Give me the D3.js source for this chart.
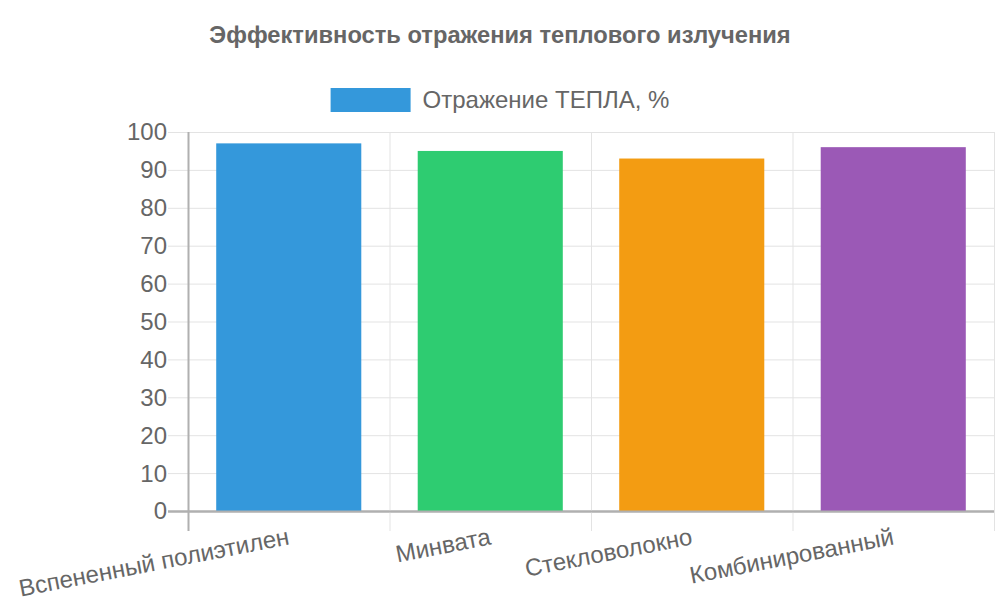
<!DOCTYPE html>
<html>
<head>
<meta charset="utf-8">
<script src="https://cdn.jsdelivr.net/npm/d3@7"></script>
<style>
    body { margin: 0; background: #fff; }
    text { font-family: "Liberation Sans", Arial, sans-serif; fill: #666; }
</style>
</head>
<body>
<div id="chart"></div>
<script>
// данные
var categories = ["Вспененный полиэтилен", "Минвата", "Стекловолокно", "Комбинированный"];
var values = [97, 95, 93, 96];
var barColors = ["#3498db", "#2ecc71", "#f39c12", "#9b59b6"];
var yTicks = [0, 10, 20, 30, 40, 50, 60, 70, 80, 90, 100];
var seriesName = "Отражение ТЕПЛА, %";
var titleText = "Эффективность отражения теплового излучения";

var width = 1000,
    height = 600,
    padding = {
        top: 132,
        right: 6,
        bottom: 89,
        left: 188
    };
var tickLen = 20;

var svg = d3.select("#chart")
    .append("svg")
    .attr("width", width)
    .attr("height", height);

var xScale = d3.scaleBand()
    .domain(categories)
    .range([padding.left, width - padding.right])
    .paddingInner(0.28)
    .paddingOuter(0.14);

var yScale = d3.scaleLinear()
    .domain([0, 100])
    .range([height - padding.bottom, padding.top]);

var y0 = yScale(0);
var step = xScale.step();

// горизонтальная сетка
svg.append("g")
    .selectAll("line")
    .data(yTicks)
    .enter().append("line")
    .attr("x1", padding.left - tickLen)
    .attr("x2", width - padding.right)
    .attr("y1", function(d) { return yScale(d) + 0.5; })
    .attr("y2", function(d) { return yScale(d) + 0.5; })
    .attr("stroke", function(d) { return d === 0 ? "#b0b0b0" : "#e3e3e3"; })
    .attr("stroke-width", function(d) { return d === 0 ? 2 : 1; });

// вертикальная сетка
var xGrid = d3.range(categories.length + 1);
svg.append("g")
    .selectAll("line")
    .data(xGrid)
    .enter().append("line")
    .attr("x1", function(i) { return padding.left + i * step + 0.5; })
    .attr("x2", function(i) { return padding.left + i * step + 0.5; })
    .attr("y1", padding.top)
    .attr("y2", y0 + tickLen)
    .attr("stroke", function(i) { return i === 0 ? "#b0b0b0" : "#e3e3e3"; })
    .attr("stroke-width", function(i) { return i === 0 ? 2 : 1; });

// подписи оси Y
svg.append("g")
    .selectAll("text")
    .data(yTicks)
    .enter().append("text")
    .attr("x", padding.left - tickLen - 1)
    .attr("y", function(d) { return yScale(d); })
    .attr("dy", "0.35em")
    .attr("text-anchor", "end")
    .attr("font-size", "24px")
    .text(function(d) { return d; });

// столбцы
svg.append("g")
    .selectAll("rect")
    .data(values)
    .enter().append("rect")
    .attr("x", function(d, i) { return xScale(categories[i]); })
    .attr("y", function(d) { return yScale(d); })
    .attr("width", xScale.bandwidth())
    .attr("height", function(d) { return y0 - yScale(d); })
    .attr("fill", function(d, i) { return barColors[i]; });

// ось X поверх столбцов
svg.append("line")
    .attr("x1", padding.left - tickLen)
    .attr("x2", width - padding.right)
    .attr("y1", y0 + 0.5)
    .attr("y2", y0 + 0.5)
    .attr("stroke", "#b0b0b0")
    .attr("stroke-width", 2);

// подписи оси X, повернутые
svg.append("g")
    .selectAll("text")
    .data(categories)
    .enter().append("text")
    .attr("transform", function(d) {
        return "translate(" + (xScale(d) + xScale.bandwidth() / 2) + "," + (y0 + 25) + ") rotate(-11)";
    })
    .attr("dy", "0.35em")
    .attr("text-anchor", "end")
    .attr("font-size", "24px")
    .text(function(d) { return d; });

// заголовок
svg.append("text")
    .attr("x", width / 2)
    .attr("y", 35)
    .attr("dy", "0.35em")
    .attr("text-anchor", "middle")
    .attr("font-size", "23.7px")
    .attr("font-weight", "bold")
    .text(titleText);

// легенда
var legend = svg.append("g");
var legendText = legend.append("text")
    .attr("y", 100)
    .attr("dy", "0.35em")
    .attr("font-size", "24px")
    .text(seriesName);
var tw = legendText.node().getComputedTextLength();
var lx = width / 2 - (80 + 12 + tw) / 2;
legend.append("rect")
    .attr("x", lx)
    .attr("y", 88)
    .attr("width", 80)
    .attr("height", 24)
    .attr("fill", barColors[0]);
legendText.attr("x", lx + 92);
</script>
</body>
</html>
